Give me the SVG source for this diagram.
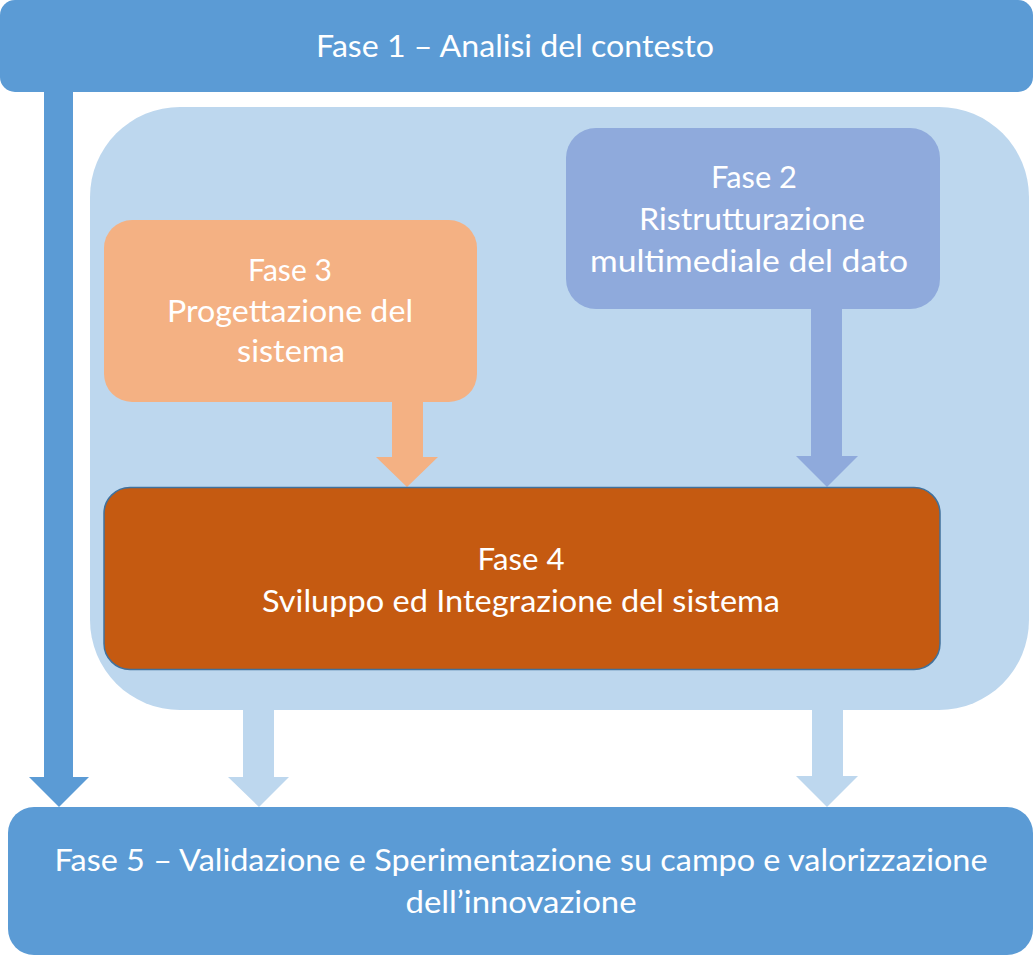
<svg xmlns="http://www.w3.org/2000/svg" width="1036" height="957" viewBox="0 0 1036 957">
<style>
text{font-family:Lato,"Open Sans","Liberation Sans",sans-serif;font-size:30px;fill:#ffffff;text-anchor:middle}
.dark{fill:#5B9BD5}
.light{fill:#BDD7EE}
</style>
<rect x="0" y="0" width="1036" height="957" fill="#ffffff"/>
<g id="container">
<rect x="90" y="107" width="939" height="603" rx="90" ry="90" fill="#BDD7EE"/>
</g>
<g id="fase1">
<rect x="0" y="0" width="1033" height="92" rx="15" ry="15" class="dark"/>
<text x="515" y="57" textLength="398" lengthAdjust="spacingAndGlyphs">Fase 1 – Analisi del contesto</text>
</g>
<g id="fase2">
<rect x="566" y="128" width="374" height="181" rx="30" ry="30" fill="#8FAADC"/>
<text x="754" y="188" textLength="86" lengthAdjust="spacingAndGlyphs">Fase 2</text>
<text x="752" y="230" textLength="226" lengthAdjust="spacingAndGlyphs">Ristrutturazione</text>
<text x="749" y="272" textLength="318" lengthAdjust="spacingAndGlyphs">multimediale del dato</text>
</g>
<g id="fase3">
<rect x="104" y="220" width="373" height="182" rx="28" ry="28" fill="#F4B183"/>
<text x="290" y="281" textLength="84" lengthAdjust="spacingAndGlyphs">Fase 3</text>
<text x="290" y="322" textLength="246" lengthAdjust="spacingAndGlyphs">Progettazione del</text>
<text x="291" y="362" textLength="108" lengthAdjust="spacingAndGlyphs">sistema</text>
</g>
<g id="connectors">
<polygon class="dark" points="44,92 73,92 73,777 89,777 59,807 29,777 44,777"/>
<polygon class="light" points="243,710 274,710 274,777 289,777 259,807 228,777 243,777"/>
<polygon class="light" points="812,710 843,710 843,776 858,776 827,807 796,776 812,776"/>
<polygon fill="#F4B183" points="392,402 423,402 423,457 438,457 407,487 376,457 392,457"/>
<polygon fill="#8FAADC" points="811,309 842,309 842,456 858,456 827,487 796,456 811,456"/>
</g>
<g id="fase4">
<rect x="104" y="487.5" width="836" height="182" rx="26" ry="26" fill="#C55A11" stroke="#41719C" stroke-width="1.5"/>
<text x="521" y="570" textLength="87" lengthAdjust="spacingAndGlyphs">Fase 4</text>
<text x="521" y="612" textLength="518" lengthAdjust="spacingAndGlyphs">Sviluppo ed Integrazione del sistema</text>
</g>
<g id="fase5">
<rect x="8" y="807" width="1025" height="148" rx="26" ry="26" class="dark"/>
<text x="521" y="871" textLength="933" lengthAdjust="spacingAndGlyphs">Fase 5 – Validazione e Sperimentazione su campo e valorizzazione</text>
<text x="521" y="913" textLength="231" lengthAdjust="spacingAndGlyphs">dell’innovazione</text>
</g>
</svg>
